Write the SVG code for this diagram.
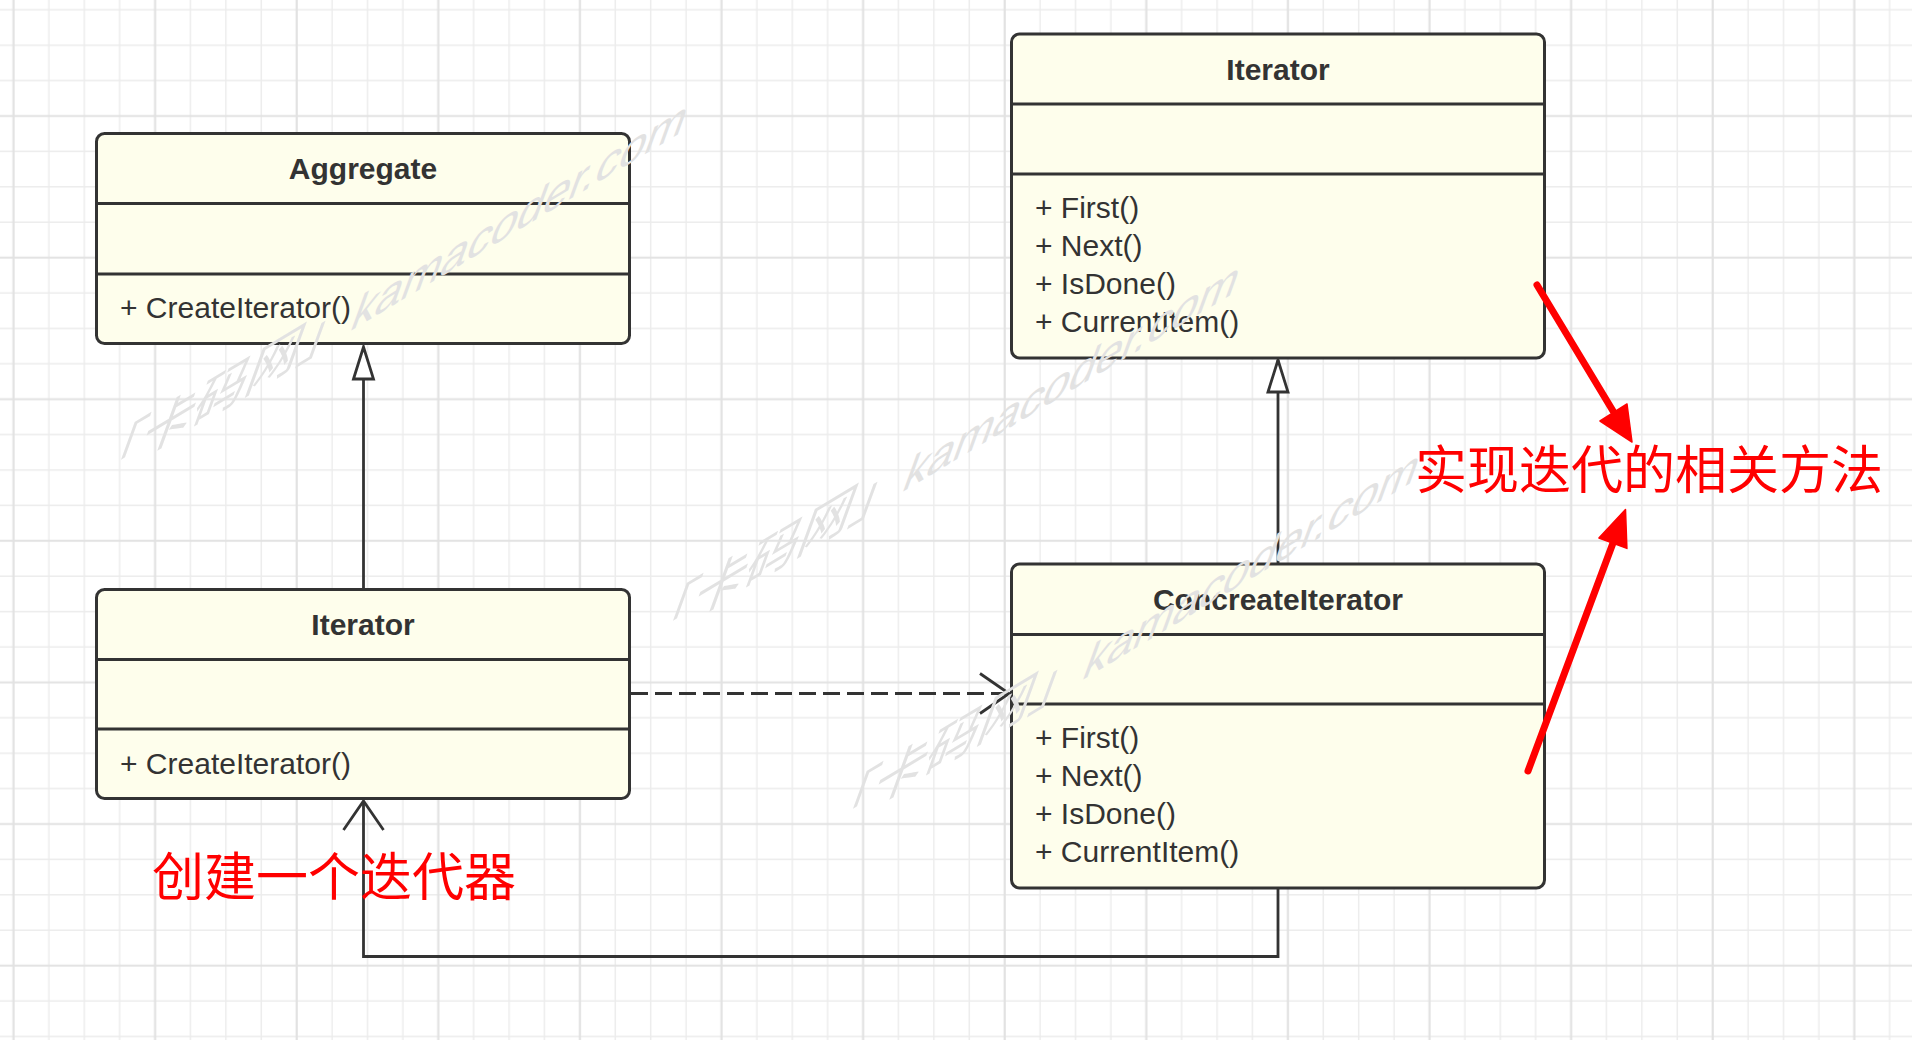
<svg xmlns="http://www.w3.org/2000/svg" width="1912" height="1040" viewBox="0 0 1912 1040">
  <style>
    .box { fill: #fefeec; stroke: #333333; stroke-width: 3; }
    .div { stroke: #333333; stroke-width: 3; }
    .title { font-family: "Liberation Sans", Arial, sans-serif; font-size: 30px; font-weight: bold; fill: #333333; text-anchor: middle; }
    .meth { font-family: "Liberation Sans", Arial, sans-serif; font-size: 30px; fill: #333333; }
    .conn { fill: none; stroke: #333333; stroke-width: 2.8; }
    .dash { stroke-dasharray: 17 7; stroke-width: 3; }
    .note { font-family: "Noto Sans CJK SC", "Noto Sans CJK TC", sans-serif; font-size: 52px; fill: #ff0000; }
    .red { stroke: #ff0000; stroke-width: 7; stroke-linecap: round; fill: none; }
    .redhead { fill: #ff0000; stroke: #ff0000; stroke-width: 1.5; stroke-linejoin: round; }
    .wm { font-family: "Liberation Sans", "Noto Sans CJK SC", sans-serif; font-size: 55px; fill: #e2e2e2; }
    .wmcjk { font-size: 62px; }
  </style>
  <defs>
    <pattern id="grid" patternUnits="userSpaceOnUse" x="-4.2" y="98.3" width="141.6" height="141.6">
      <path d="M53.1,0 V141.6 M88.5,0 V141.6 M123.9,0 V141.6 M0,53.1 H141.6 M0,88.5 H141.6 M0,123.9 H141.6" stroke="#ececec" stroke-width="1.4" fill="none"/>
      <path d="M17.7,0 V141.6 M0,17.7 H141.6" stroke="#e2e2e2" stroke-width="2.2" fill="none"/>
    </pattern>
    <marker id="tri" viewBox="0 0 32 20" refX="32" refY="10" markerWidth="32" markerHeight="20" markerUnits="userSpaceOnUse" orient="auto" overflow="visible">
      <path d="M0,0 L32,10 L0,20 Z" fill="#ffffff" stroke="#333333" stroke-width="2.8" stroke-linejoin="miter"/>
    </marker>
    <marker id="open" viewBox="0 0 29 40" refX="29" refY="20" markerWidth="29" markerHeight="40" markerUnits="userSpaceOnUse" orient="auto" overflow="visible">
      <path d="M0,0 L29,20 L0,40" fill="none" stroke="#333333" stroke-width="2.8"/>
    </marker>
  </defs>

  <rect x="0" y="0" width="1912" height="1040" fill="#ffffff"/>
  <rect x="0" y="0" width="1912" height="1040" fill="url(#grid)"/>

  <g id="connectors">
    <path class="conn" d="M363.5,589.5 V347" marker-end="url(#tri)"/>
    <path class="conn" d="M1278,564 V360" marker-end="url(#tri)"/>
    <path class="conn dash" d="M631,693.5 H1009" marker-end="url(#open)"/>
    <path class="conn" d="M1278,888 V956.5 H363.5 V801" marker-end="url(#open)"/>
  </g>

  <g id="aggregate">
    <rect class="box" x="96.5" y="133.5" width="533" height="210" rx="8"/>
    <line class="div" x1="96.5" y1="203.5" x2="629.5" y2="203.5"/>
    <line class="div" x1="96.5" y1="274" x2="629.5" y2="274"/>
    <text class="title" x="363" y="179">Aggregate</text>
    <text class="meth" x="120" y="318">+ CreateIterator()</text>
  </g>

  <g id="iterator-left">
    <rect class="box" x="96.5" y="589.5" width="533" height="209" rx="8"/>
    <line class="div" x1="96.5" y1="659.5" x2="629.5" y2="659.5"/>
    <line class="div" x1="96.5" y1="729" x2="629.5" y2="729"/>
    <text class="title" x="363" y="635">Iterator</text>
    <text class="meth" x="120" y="774">+ CreateIterator()</text>
  </g>

  <g id="iterator-right">
    <rect class="box" x="1011.5" y="34" width="533" height="324" rx="8"/>
    <line class="div" x1="1011.5" y1="104" x2="1544.5" y2="104"/>
    <line class="div" x1="1011.5" y1="174" x2="1544.5" y2="174"/>
    <text class="title" x="1278" y="80">Iterator</text>
    <text class="meth" x="1035" y="218">+ First()</text>
    <text class="meth" x="1035" y="256">+ Next()</text>
    <text class="meth" x="1035" y="294">+ IsDone()</text>
    <text class="meth" x="1035" y="332">+ CurrentItem()</text>
  </g>

  <g id="concreate-iterator">
    <rect class="box" x="1011.5" y="564" width="533" height="324" rx="8"/>
    <line class="div" x1="1011.5" y1="634.5" x2="1544.5" y2="634.5"/>
    <line class="div" x1="1011.5" y1="704" x2="1544.5" y2="704"/>
    <text class="title" x="1278" y="610">ConcreateIterator</text>
    <text class="meth" x="1035" y="748">+ First()</text>
    <text class="meth" x="1035" y="786">+ Next()</text>
    <text class="meth" x="1035" y="824">+ IsDone()</text>
    <text class="meth" x="1035" y="862">+ CurrentItem()</text>
  </g>

  <g id="watermarks">
    <text class="wm" transform="matrix(0.857,-0.515,-0.342,0.940,353,328)"><tspan class="wmcjk" x="-315" y="2">「卡码网」</tspan><tspan>kamacoder.com</tspan></text>
    <text class="wm" transform="matrix(0.857,-0.515,-0.342,0.940,905,489)"><tspan class="wmcjk" x="-315" y="2">「卡码网」</tspan><tspan>kamacoder.com</tspan></text>
    <text class="wm" transform="matrix(0.857,-0.515,-0.342,0.940,1085,677)"><tspan class="wmcjk" x="-315" y="2">「卡码网」</tspan><tspan>kamacoder.com</tspan></text>
  </g>

  <g id="annotations">
    <text class="note" x="152" y="896">创建一个迭代器</text>
    <text class="note" x="1415" y="489">实现迭代的相关方法</text>
    <line class="red" x1="1537" y1="285" x2="1613" y2="411"/>
    <polygon class="redhead" points="1632,442 1600,421 1627,404"/>
    <line class="red" x1="1528" y1="771" x2="1613" y2="543"/>
    <polygon class="redhead" points="1625.5,509.5 1598.9,538 1626.9,548.4"/>
  </g>
</svg>
